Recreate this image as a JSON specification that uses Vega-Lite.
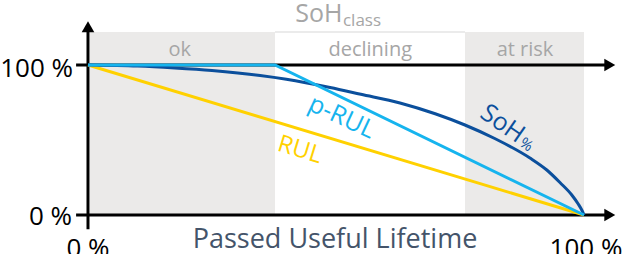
{
  "$schema": "https://vega.github.io/schema/vega-lite/v6.json",
  "width": 622,
  "height": 254,
  "autosize": {"type": "none"},
  "padding": 0,
  "background": "white",
  "config": {"view": {"stroke": null}, "font": "Open Sans"},
  "datasets": {
    "bands": [
      {"class": "ok", "x": 0.4, "x2": 37.7, "y": 0, "y2": 122},
      {"class": "at risk", "x": 76, "x2": 100, "y": 0, "y2": 122}
    ],
    "axes": [
      {"part": "vertical", "x": 0, "x2": 0, "y": -9.5, "y2": 125},
      {"part": "top", "x": -2.4, "x2": 104.5, "y": 100, "y2": 100},
      {"part": "bottom", "x": -2.4, "x2": 104.5, "y": 0, "y2": 0}
    ],
    "arrowsUp": [{"x": 0, "y": 125.5}],
    "arrowsRight": [{"x": 105.2, "y": 100}, {"x": 105.2, "y": 0}],
    "straight": [
      {"series": "RUL", "order": 1, "x": 0, "y": 100},
      {"series": "RUL", "order": 2, "x": 100, "y": 0},
      {"series": "p-RUL", "order": 1, "x": 0, "y": 100},
      {"series": "p-RUL", "order": 2, "x": 37.7, "y": 100},
      {"series": "p-RUL", "order": 3, "x": 100, "y": 0}
    ],
    "soh": [
      {"series": "SoH", "order": 1, "x": 0, "y": 100},
      {"series": "SoH", "order": 2, "x": 10, "y": 99.3},
      {"series": "SoH", "order": 3, "x": 17.5, "y": 98},
      {"series": "SoH", "order": 4, "x": 25, "y": 96.3},
      {"series": "SoH", "order": 5, "x": 34.7, "y": 93},
      {"series": "SoH", "order": 6, "x": 40, "y": 90.5},
      {"series": "SoH", "order": 7, "x": 48.8, "y": 85},
      {"series": "SoH", "order": 8, "x": 55, "y": 80.5},
      {"series": "SoH", "order": 9, "x": 62.9, "y": 74.7},
      {"series": "SoH", "order": 10, "x": 70, "y": 67.5},
      {"series": "SoH", "order": 11, "x": 76, "y": 60},
      {"series": "SoH", "order": 12, "x": 82, "y": 51},
      {"series": "SoH", "order": 13, "x": 89.1, "y": 38},
      {"series": "SoH", "order": 14, "x": 92.5, "y": 30},
      {"series": "SoH", "order": 15, "x": 95.2, "y": 21.5},
      {"series": "SoH", "order": 16, "x": 97.5, "y": 13.5},
      {"series": "SoH", "order": 17, "x": 98.8, "y": 7.5},
      {"series": "SoH", "order": 18, "x": 99.6, "y": 3},
      {"series": "SoH", "order": 19, "x": 100, "y": 0}
    ],
    "classLabels": [
      {"text": "ok", "x": 18.5, "y": 110},
      {"text": "declining", "x": 56.9, "y": 110},
      {"text": "at risk", "x": 88.1, "y": 110}
    ],
    "yLabels": [
      {"text": "100 %", "x": -3.0, "y": 97.3},
      {"text": "0 %", "x": -3.2, "y": -1.3}
    ],
    "xLabels": [
      {"text": "0 %", "x": 0, "y": -14.3},
      {"text": "100 %", "x": 100.4, "y": -14.3}
    ],
    "xTitle": [{"text": "Passed Useful Lifetime", "x": 49.8, "y": -22}],
    "titleMain": [{"text": "SoH", "x": 41.8, "y": 128.5}],
    "titleSub": [{"text": "class", "x": 51.4, "y": 126}],
    "lblPRUL": [{"text": "p-RUL", "x": 51.2, "y": 65.3}],
    "lblRUL": [{"text": "RUL", "x": 42.7, "y": 43.3}],
    "lblSoH": [{"text": "SoH", "x": 83.6, "y": 61}],
    "lblSoHsub": [{"text": "%", "x": 88.4, "y": 47}]
  },
  "encoding": {
    "x": {"field": "x", "type": "quantitative", "scale": {"domain": [-17.74, 107.66], "nice": false, "zero": false}, "axis": null},
    "y": {"field": "y", "type": "quantitative", "scale": {"domain": [-26, 143.33], "nice": false, "zero": false}, "axis": null}
  },
  "layer": [
    {
      "data": {"name": "bands"},
      "mark": {"type": "rect", "color": "#EBEAE9"},
      "encoding": {"x2": {"field": "x2"}, "y2": {"field": "y2"}}
    },
    {
      "data": {"values": [{"x": 37.7, "x2": 76, "y": 122}]},
      "mark": {"type": "rule", "color": "#E4E4E4", "strokeWidth": 1.5},
      "encoding": {"x2": {"field": "x2"}}
    },
    {
      "data": {"name": "axes"},
      "mark": {"type": "rule", "color": "black", "strokeWidth": 3},
      "encoding": {"x2": {"field": "x2"}, "y2": {"field": "y2"}}
    },
    {
      "data": {"name": "arrowsUp"},
      "mark": {"type": "point", "shape": "triangle-up", "filled": true, "color": "black", "opacity": 1, "size": 160}
    },
    {
      "data": {"name": "arrowsRight"},
      "mark": {"type": "point", "shape": "triangle-right", "filled": true, "color": "black", "opacity": 1, "size": 160}
    },
    {
      "data": {"name": "straight"},
      "transform": [{"filter": "datum.series === 'RUL'"}],
      "mark": {"type": "line", "strokeWidth": 3, "color": "#FFD100"},
      "encoding": {"order": {"field": "order", "type": "quantitative"}}
    },
    {
      "data": {"name": "soh"},
      "mark": {"type": "line", "strokeWidth": 3, "interpolate": "monotone", "color": "#0B4F9C"},
      "encoding": {"order": {"field": "order", "type": "quantitative"}}
    },
    {
      "data": {"name": "straight"},
      "transform": [{"filter": "datum.series === 'p-RUL'"}],
      "mark": {"type": "line", "strokeWidth": 3, "color": "#16B4EE"},
      "encoding": {"order": {"field": "order", "type": "quantitative"}}
    },
    {
      "data": {"name": "classLabels"},
      "mark": {"type": "text", "fontSize": 20, "color": "#A6A6A6", "align": "center", "baseline": "middle"},
      "encoding": {"text": {"field": "text"}}
    },
    {
      "data": {"name": "yLabels"},
      "mark": {"type": "text", "fontSize": 26, "color": "black", "align": "right", "baseline": "middle"},
      "encoding": {"text": {"field": "text"}}
    },
    {
      "data": {"name": "xLabels"},
      "mark": {"type": "text", "fontSize": 26, "color": "black", "align": "center", "baseline": "top"},
      "encoding": {"text": {"field": "text"}}
    },
    {
      "data": {"name": "xTitle"},
      "mark": {"type": "text", "fontSize": 27, "color": "#44546A", "align": "center", "baseline": "alphabetic"},
      "encoding": {"text": {"field": "text"}}
    },
    {
      "data": {"name": "titleMain"},
      "mark": {"type": "text", "fontSize": 25, "color": "#A6A6A6", "align": "left", "baseline": "alphabetic"},
      "encoding": {"text": {"field": "text"}}
    },
    {
      "data": {"name": "titleSub"},
      "mark": {"type": "text", "fontSize": 17, "color": "#A6A6A6", "align": "left", "baseline": "alphabetic"},
      "encoding": {"text": {"field": "text"}}
    },
    {
      "data": {"name": "lblPRUL"},
      "mark": {"type": "text", "fontSize": 25, "color": "#16B4EE", "align": "center", "baseline": "middle", "angle": 25},
      "encoding": {"text": {"field": "text"}}
    },
    {
      "data": {"name": "lblRUL"},
      "mark": {"type": "text", "fontSize": 24, "color": "#FFD100", "align": "center", "baseline": "middle", "angle": 17},
      "encoding": {"text": {"field": "text"}}
    },
    {
      "data": {"name": "lblSoH"},
      "mark": {"type": "text", "fontSize": 25, "color": "#0B4F9C", "align": "center", "baseline": "middle", "angle": 35},
      "encoding": {"text": {"field": "text"}}
    },
    {
      "data": {"name": "lblSoHsub"},
      "mark": {"type": "text", "fontSize": 15, "color": "#0B4F9C", "align": "center", "baseline": "middle", "angle": 35},
      "encoding": {"text": {"field": "text"}}
    }
  ]
}
